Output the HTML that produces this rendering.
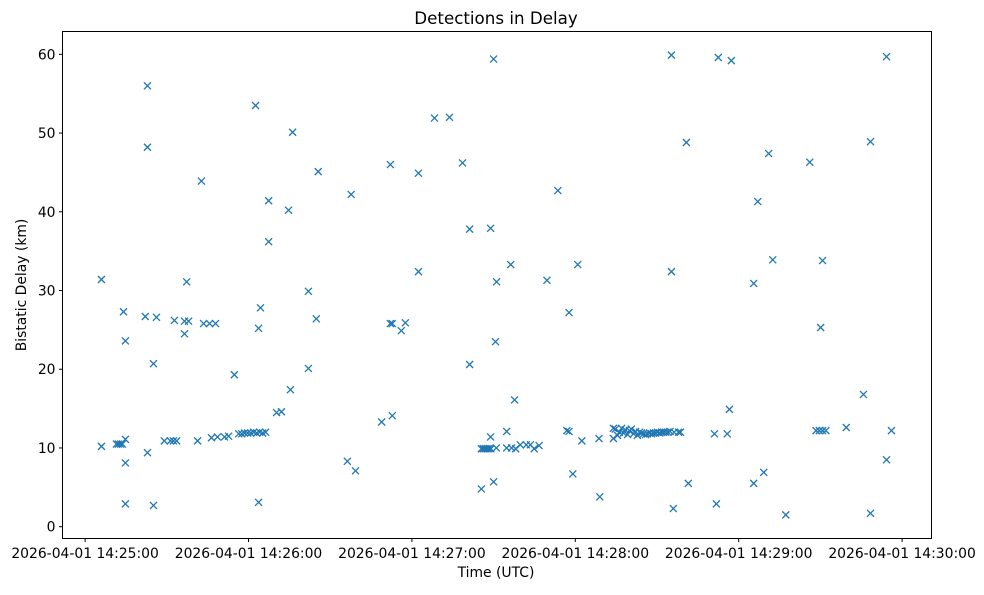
<!DOCTYPE html>
<html><head><meta charset="utf-8"><style>
body{margin:0;background:#fff}
svg text{font-family:"DejaVu Sans","Liberation Sans",sans-serif;fill:#000}
</style></head><body>
<svg id="chart" width="984" height="590" xmlns="http://www.w3.org/2000/svg">
<rect width="984" height="590" fill="#fff"/>
<text x="496" y="24" text-anchor="middle" font-size="16.7">Detections in Delay</text>
<text x="496" y="577" text-anchor="middle" font-size="13.9">Time (UTC)</text>
<text transform="translate(26,285) rotate(-90)" text-anchor="middle" font-size="13.9">Bistatic Delay (km)</text>
<g id="ticks"></g>
<g id="marks"></g>
<rect x="62.5" y="31.5" width="869" height="507" fill="none" stroke="#000" stroke-width="1"/>
</svg>
<script>
// seconds after 14:25:00
const times = [6.0,6.0,11.5,12.2,13.0,13.7,14.1,14.8,14.8,14.8,14.8,22.1,22.9,22.9,22.9,25.1,25.1,26.2,29.1,31.3,32.4,33.6,32.8,36.5,37.3,36.5,38.0,41.3,42.7,43.5,45.7,47.9,46.4,48.6,51.2,54.8,52.7,
56.4,57.5,58.6,59.7,60.8,61.9,63.0,64.1,65.2,66.3,62.6,63.7,64.4,63.7,67.4,67.4,70.3,72.1,74.7,76.2,75.4,82.0,82.0,84.9,85.6,96.3,99.3,97.7,108.9,112.1,112.1,112.8,112.8,116.1,117.6,122.4,122.4,128.3,133.8,138.6,141.2,141.2,148.9,150.0,151.1,150.7,145.5,150.0,148.9,
145.5,146.2,146.9,147.6,148.3,149.0,151.0,154.8,156.6,154.8,156.3,157.7,158.1,159.8,162.0,163.5,164.9,166.7,169.6,173.6,176.9,177.7,177.7,179.1,180.9,182.4,189.0,188.7,194.0,194.0,
194.7,195.5,196.2,197.0,197.7,198.4,199.2,199.9,200.6,201.4,202.1,202.8,203.6,204.3,205.0,205.8,206.5,207.3,208.0,208.7,209.5,210.2,211.0,211.7,212.4,213.2,214.0,214.8,216.3,218.6,
215.3,220.8,215.3,216.0,221.5,217.9,231.1,232.5,237.3,235.8,236.6,231.8,245.5,249.2,245.5,247.0,251.0,252.5,257.3,266.1,270.1,270.8,268.4,269.6,270.8,272.0,279.5,285.8,288.4,288.4,294.3,294.3,296.1];
const delays = [31.4,10.2,10.5,10.5,10.5,10.5,27.3,23.6,11.1,8.1,2.9,26.7,56.0,48.2,9.4,20.7,2.7,26.6,10.9,10.9,10.9,10.9,26.2,24.5,31.1,26.1,26.1,10.9,43.9,25.8,25.8,25.8,11.3,11.4,11.4,19.3,11.5,
11.8,11.8,11.9,11.9,11.9,12.0,11.9,12.0,11.9,12.0,53.5,25.2,27.8,3.1,41.4,36.2,14.5,14.6,40.2,50.1,17.4,29.9,20.1,26.4,45.1,8.3,7.1,42.2,13.3,46.0,25.8,25.8,14.1,24.9,25.9,32.4,44.9,51.9,52.0,46.2,37.8,20.6,37.9,59.4,31.1,23.5,4.8,5.7,11.4,
9.9,9.9,9.9,9.9,9.9,9.9,10.0,10.0,10.0,12.1,33.3,16.1,9.9,10.4,10.4,10.4,9.9,10.3,31.3,42.7,12.2,12.1,27.2,6.7,33.3,10.9,3.8,11.2,12.5,11.2,
12.4,11.6,12.0,12.5,11.9,12.3,11.7,12.2,12.4,11.8,12.1,11.6,12.0,11.9,11.8,11.7,11.8,11.9,11.8,11.9,11.9,12.0,11.9,12.0,12.0,12.0,12.0,12.1,12.0,12.0,
59.9,48.8,32.4,2.3,5.5,12.0,11.8,59.6,59.2,11.8,14.9,2.9,5.5,6.9,30.9,41.3,47.4,33.9,1.5,46.3,25.3,33.8,12.2,12.2,12.2,12.2,12.6,16.8,48.9,1.7,59.7,8.5,12.2];
const yTicks = [0,10,20,30,40,50,60];
const xTicks = [0,60,120,180,240,300];
const xTickLabels = ["2026-04-01 14:25:00","2026-04-01 14:26:00","2026-04-01 14:27:00","2026-04-01 14:28:00","2026-04-01 14:29:00","2026-04-01 14:30:00"];

const X0=62.5,X1=931.5,Y0=538.5,Y1=31.5;
const xMin=-8.3,xMax=310.8,yMin=-1.5,yMax=62.9;
const xs=v=>X0+(v-xMin)/(xMax-xMin)*(X1-X0);
const ys=v=>Y0-(v-yMin)/(yMax-yMin)*(Y0-Y1);
const NS="http://www.w3.org/2000/svg";
const tg=document.getElementById('ticks'), mg=document.getElementById('marks');
function mk(t,a){const e=document.createElementNS(NS,t);for(const k in a)e.setAttribute(k,a[k]);return e;}
yTicks.forEach(v=>{
  const y=ys(v);
  const l=mk('line',{x1:X0-3.5,x2:X0,y1:y,y2:y,stroke:'#000'});
  
  
  tg.appendChild(l);
  const t=mk('text',{x:X0-7,y:y+5,'text-anchor':'end','font-size':'13.9'});
  
  
  t.textContent=v;tg.appendChild(t);
});
xTicks.forEach((v,i)=>{
  const x=xs(v);
  const l=mk('line',{x1:x,x2:x,y1:Y0,y2:Y0+3.5,stroke:'#000'});
  
  
  tg.appendChild(l);
  const t=mk('text',{x:x,y:558,'text-anchor':'middle','font-size':'13.9'});
  
  
  t.textContent=xTickLabels[i];tg.appendChild(t);
});
times.forEach((tv,i)=>{
  const x=xs(tv),y=ys(delays[i]),r=3.5;
  const p=mk('path',{d:`M${x-r},${y-r}L${x+r},${y+r}M${x-r},${y+r}L${x+r},${y-r}`,stroke:'#1f77b4','stroke-width':1.3,fill:'none'});
  
  
  mg.appendChild(p);
});
</script>
</body></html>
